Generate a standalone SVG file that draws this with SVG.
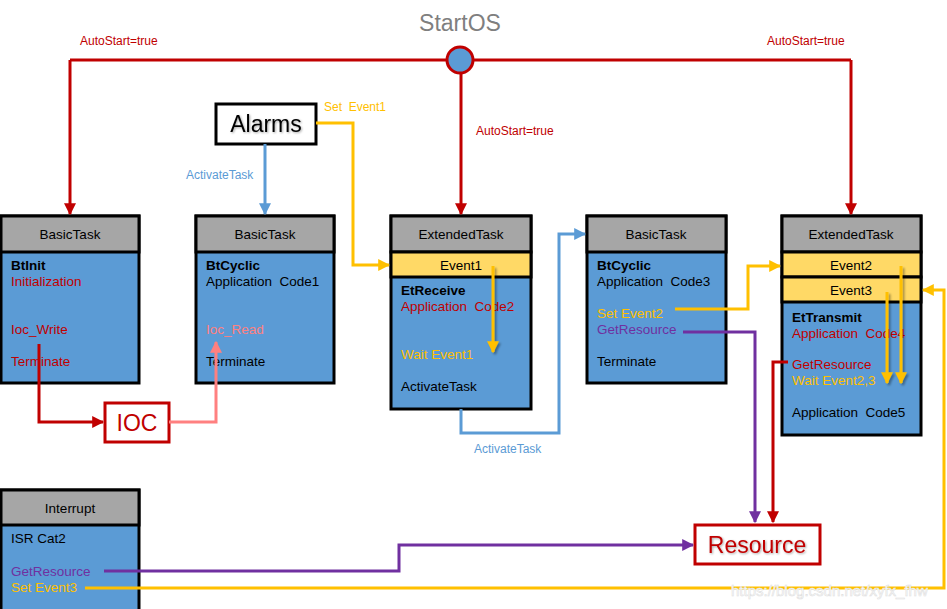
<svg xmlns="http://www.w3.org/2000/svg" width="947" height="609" viewBox="0 0 947 609">
<defs>
<marker id="aR" viewBox="0 0 10 10" refX="9" refY="5" markerWidth="4" markerHeight="4" orient="auto-start-reverse"><path d="M0,0 L10,5 L0,10 z" fill="#C00000"/></marker>
<marker id="aB" viewBox="0 0 10 10" refX="9" refY="5" markerWidth="4" markerHeight="4" orient="auto-start-reverse"><path d="M0,0 L10,5 L0,10 z" fill="#5B9BD5"/></marker>
<marker id="aY" viewBox="0 0 10 10" refX="9" refY="5" markerWidth="4" markerHeight="4" orient="auto-start-reverse"><path d="M0,0 L10,5 L0,10 z" fill="#FFC000"/></marker>
<marker id="aP" viewBox="0 0 10 10" refX="9" refY="5" markerWidth="4" markerHeight="4" orient="auto-start-reverse"><path d="M0,0 L10,5 L0,10 z" fill="#7030A0"/></marker>
<marker id="aK" viewBox="0 0 10 10" refX="9" refY="5" markerWidth="4" markerHeight="4" orient="auto-start-reverse"><path d="M0,0 L10,5 L0,10 z" fill="#FF8080"/></marker>
<filter id="sh" x="-10%" y="-10%" width="130%" height="130%"><feDropShadow dx="1" dy="1" stdDeviation="0.8" flood-color="#000" flood-opacity="0.35"/></filter>
<filter id="shU" filterUnits="userSpaceOnUse" x="0" y="0" width="947" height="609"><feDropShadow dx="2" dy="2" stdDeviation="1" flood-color="#000" flood-opacity="0.35"/></filter>
</defs>
<style>
text{font-family:"Liberation Sans","DejaVu Sans",sans-serif;font-size:13.5px;fill:#000;white-space:pre}
.hd{fill:#A6A6A6;stroke:#000;stroke-width:3}
.bd{fill:#5B9BD5;stroke:#000;stroke-width:3}
.ev{fill:#FFD966;stroke:#000;stroke-width:3}
.c{text-anchor:middle}
.b{font-weight:bold}
.r{fill:#C00000}
.y{fill:#FFC000}
.p{fill:#7030A0}
.k{fill:#FF8080}
.lbl{font-size:12px}
.ln{fill:none;stroke-width:3}
.red{stroke:#C00000}
.blu{stroke:#5B9BD5}
.yel{stroke:#FFC000}
.pur{stroke:#7030A0}
.pnk{stroke:#FF8080}
</style>
<rect width="947" height="609" fill="#fff"/>

<g id="startos">
<text x="460" y="31" class="c" style="font-size:23px;fill:#7F7F7F">StartOS</text>
</g>

<g id="alarms">
<rect x="216" y="104" width="100" height="40" fill="#fff" stroke="#000" stroke-width="3"/>
<text x="266" y="132" class="c" style="font-size:23px" filter="url(#sh)">Alarms</text>
</g>

<g id="btinit">
<rect x="1" y="216" width="138" height="167" class="bd"/>
<rect x="1" y="216" width="138" height="36" class="hd"/>
<text x="70" y="239" class="c">BasicTask</text>
<text x="11" y="270" class="b">BtInit</text>
<text x="11" y="286" class="r">Initialization</text>
<text x="11" y="334" class="r">Ioc_Write</text>
<text x="11" y="366" class="r">Terminate</text>
</g>

<g id="btcyclic1">
<rect x="196" y="216" width="138" height="167" class="bd"/>
<rect x="196" y="216" width="138" height="36" class="hd"/>
<text x="265" y="239" class="c">BasicTask</text>
<text x="206" y="270" class="b">BtCyclic</text>
<text x="206" y="286" xml:space="preserve">Application  Code1</text>
<text x="206" y="334" class="k">Ioc_Read</text>
<text x="206" y="366">Terminate</text>
</g>

<g id="etreceive">
<rect x="391" y="216" width="140" height="193" class="bd"/>
<rect x="391" y="216" width="140" height="36" class="hd"/>
<rect x="391" y="252" width="140" height="25" class="ev"/>
<text x="461" y="239" class="c">ExtendedTask</text>
<text x="461" y="270" class="c">Event1</text>
<text x="401" y="295" class="b">EtReceive</text>
<text x="401" y="311" class="r" xml:space="preserve">Application  Code2</text>
<text x="401" y="359" class="y">Wait Event1</text>
<text x="401" y="391">ActivateTask</text>
</g>

<g id="btcyclic3">
<rect x="587" y="216" width="139" height="167" class="bd"/>
<rect x="587" y="216" width="139" height="36" class="hd"/>
<text x="656" y="239" class="c">BasicTask</text>
<text x="597" y="270" class="b">BtCyclic</text>
<text x="597" y="286" xml:space="preserve">Application  Code3</text>
<text x="597" y="318" class="y">Set Event2</text>
<text x="597" y="334" class="p">GetResource</text>
<text x="597" y="366">Terminate</text>
</g>

<g id="ettransmit">
<rect x="782" y="216" width="139" height="219" class="bd"/>
<rect x="782" y="216" width="139" height="36" class="hd"/>
<rect x="782" y="252" width="139" height="25" class="ev"/>
<rect x="782" y="277" width="139" height="25" class="ev"/>
<text x="851" y="239" class="c">ExtendedTask</text>
<text x="851" y="270" class="c">Event2</text>
<text x="851" y="295" class="c">Event3</text>
<text x="792" y="322" class="b">EtTransmit</text>
<text x="792" y="338" class="r" xml:space="preserve">Application  Code4</text>
<text x="792" y="369" class="r">GetResource</text>
<text x="792" y="385" class="y">Wait Event2,3</text>
<text x="792" y="417" xml:space="preserve">Application  Code5</text>
</g>

<g id="interrupt">
<rect x="1" y="490" width="138" height="125" class="bd"/>
<rect x="1" y="490" width="138" height="35" class="hd"/>
<text x="70" y="513" class="c">Interrupt</text>
<text x="11" y="543">ISR Cat2</text>
<text x="11" y="576" class="p">GetResource</text>
<text x="11" y="592" class="y">Set Event3</text>
</g>

<g id="ioc">
<rect x="105" y="403" width="64" height="39" fill="#fff" stroke="#C00000" stroke-width="3"/>
<text x="137" y="431" class="c r" style="font-size:23px">IOC</text>
</g>

<g id="resource">
<rect x="695" y="525" width="125" height="39" fill="#fff" stroke="#C00000" stroke-width="3"/>
<text x="757" y="553" class="c r" style="font-size:23px" filter="url(#sh)">Resource</text>
</g>

<g id="connectors">
<path class="ln red" d="M70,60 H851" />
<path class="ln red" d="M70,60 V214" marker-end="url(#aR)"/>
<path class="ln red" d="M851,60 V214" marker-end="url(#aR)"/>
<path class="ln red" d="M461,73 V214" marker-end="url(#aR)"/>
<path class="ln yel" d="M316,123 H353 V265 H389" marker-end="url(#aY)"/>
<path class="ln blu" d="M265,144 V214" marker-end="url(#aB)"/>
<path class="ln red" d="M39,344 V422 H103" marker-end="url(#aR)"/>
<path class="ln pnk" d="M169,422 H216 V342" marker-end="url(#aK)"/>
<path class="ln blu" d="M461,409 V433 H559 V234 H585" marker-end="url(#aB)"/>
<path class="ln yel" d="M493,266 V352" marker-end="url(#aY)" filter="url(#shU)"/>
<path class="ln yel" d="M675,309 H748 V266 H780" marker-end="url(#aY)"/>
<path class="ln pur" d="M683,332 H755 V522" marker-end="url(#aP)"/>
<path class="ln red" d="M788,362 H773 V522" marker-end="url(#aR)"/>
<path class="ln yel" d="M901,266 V383" marker-end="url(#aY)" filter="url(#shU)"/>
<path class="ln yel" d="M887,292 V383" marker-end="url(#aY)" filter="url(#shU)"/>
<path class="ln pur" d="M104,571 H399 V545 H693" marker-end="url(#aP)"/>
<path class="ln yel" d="M85,588 H944 V290 H923" marker-end="url(#aY)"/>
<circle cx="460" cy="60" r="13" fill="#5B9BD5" stroke="#C00000" stroke-width="3"/>
<text x="80" y="45" class="lbl r">AutoStart=true</text>
<text x="767" y="45" class="lbl r">AutoStart=true</text>
<text x="476" y="135" class="lbl r">AutoStart=true</text>
<text x="324" y="111" class="lbl y" xml:space="preserve">Set  Event1</text>
<text x="186" y="179" class="lbl" style="fill:#5B9BD5">ActivateTask</text>
<text x="474" y="453" class="lbl" style="fill:#5B9BD5">ActivateTask</text>
</g>

<text x="731" y="596" style="font-size:15px;fill:#fff;stroke:#e0e0e0;stroke-width:0.6">https://blog.csdn.net/xyfx_fhw</text>
</svg>
